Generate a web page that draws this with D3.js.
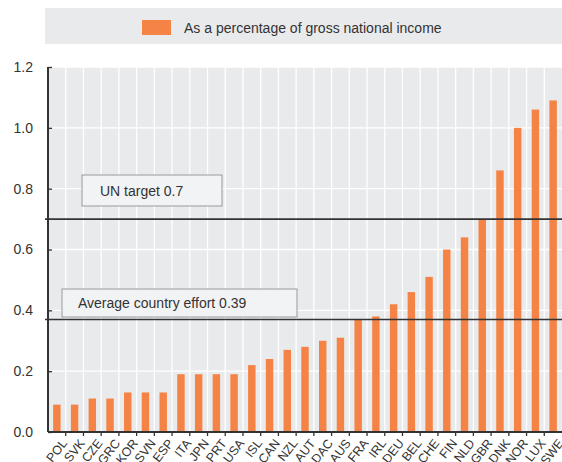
<!DOCTYPE html>
<html>
<head>
<meta charset="utf-8">
<script src="https://cdn.jsdelivr.net/npm/d3@7"></script>
<style>
  body { margin: 0; background: #fff; }
  text { font-family: "Liberation Sans", Arial, sans-serif; fill: #333; }
</style>
</head>
<body>
<svg id="chart" width="562" height="462"></svg>
<script>
var countries = ["POL","SVK","CZE","GRC","KOR","SVN","ESP","ITA","JPN","PRT","USA","ISL","CAN","NZL","AUT","DAC","AUS","FRA","IRL","DEU","BEL","CHE","FIN","NLD","GBR","DNK","NOR","LUX","SWE"];
var gniShare = [0.09,0.09,0.11,0.11,0.13,0.13,0.13,0.19,0.19,0.19,0.19,0.22,0.24,0.27,0.28,0.30,0.31,0.37,0.38,0.42,0.46,0.51,0.60,0.64,0.70,0.86,1.00,1.06,1.09];
var yTicks = [0, 0.2, 0.4, 0.6, 0.8, 1.0, 1.2];
var refLines = [
  { value: 0.7, label: "UN target 0.7" },
  { value: 0.37, label: "Average country effort 0.39" }
];
var legendLabel = "As a percentage of gross national income";

var svg = d3.select("#chart");
var plotL = 48, plotR = 562, plotT = 67, plotB = 432;

var x = d3.scaleBand().domain(countries).range([plotL, plotR]).paddingInner(0.58).paddingOuter(0.29);
var y = d3.scaleLinear().domain([0, 1.2]).range([plotB, plotT]);

// background
svg.append("rect").attr("x", plotL).attr("y", plotT).attr("width", plotR - plotL).attr("height", plotB - plotT)
  .attr("fill", "#e9eaec");

// legend
svg.append("rect").attr("x", 45).attr("y", 8).attr("width", 517).attr("height", 36).attr("fill", "#e9eaec");
svg.append("rect").attr("x", 142).attr("y", 20).attr("width", 29).attr("height", 15).attr("fill", "#f58345");
svg.append("text").attr("x", 184).attr("y", 33).attr("font-size", 14).text(legendLabel);

// grid
var step = x.step();
var bounds = d3.range(1, countries.length).map(function(i) { return plotL + i * step; });
svg.selectAll(".vgrid").data(bounds).enter().append("line")
  .attr("x1", function(d) { return d; }).attr("x2", function(d) { return d; })
  .attr("y1", plotT).attr("y2", plotB)
  .attr("stroke", "#fff").attr("stroke-width", 1.3);
svg.selectAll(".hgrid").data(yTicks.slice(1)).enter().append("line")
  .attr("x1", plotL).attr("x2", plotR)
  .attr("y1", function(d) { return y(d); }).attr("y2", function(d) { return y(d); })
  .attr("stroke", "#fff").attr("stroke-width", 1.3);

// bars
svg.selectAll(".bar").data(gniShare).enter().append("rect")
  .attr("x", function(d, i) { return x(countries[i]); })
  .attr("y", function(d) { return y(d); })
  .attr("width", x.bandwidth())
  .attr("height", function(d) { return plotB - y(d); })
  .attr("fill", "#f58345");

// y axis
var yAxis = svg.append("g").attr("transform", "translate(" + plotL + ",0)")
  .call(d3.axisRight(y).tickValues(yTicks).tickFormat(d3.format(".1f")).tickSize(4));
yAxis.select(".domain").remove();
yAxis.selectAll(".tick line").attr("stroke", "#333").attr("stroke-width", 1.3);
yAxis.selectAll(".tick text").attr("x", -15).attr("text-anchor", "end").attr("font-size", 14)
  .attr("font-family", "Liberation Sans, Arial, sans-serif").attr("fill", "#333");
svg.append("line").attr("x1", plotL).attr("x2", plotL).attr("y1", plotT).attr("y2", plotB)
  .attr("stroke", "#333").attr("stroke-width", 2);

// x axis
svg.selectAll(".xtick").data(bounds).enter().append("line")
  .attr("x1", function(d) { return d; }).attr("x2", function(d) { return d; })
  .attr("y1", plotB).attr("y2", plotB + 4)
  .attr("stroke", "#333").attr("stroke-width", 1.3);
svg.append("line").attr("x1", plotL).attr("x2", plotR).attr("y1", plotB).attr("y2", plotB)
  .attr("stroke", "#333").attr("stroke-width", 2.2);
svg.selectAll(".xlab").data(countries).enter().append("text")
  .attr("transform", function(d) {
    return "translate(" + (x(d) + x.bandwidth() / 2 + 4) + "," + (plotB + 6) + ") rotate(-52)";
  })
  .attr("text-anchor", "end").attr("dy", "0.7em").attr("font-size", 12.5).text(function(d) { return d; });

// reference lines and labels
var boxes = [
  { x: 82, y: 175, w: 140, h: 31, tx: 100 },
  { x: 62, y: 289, w: 235, h: 28, tx: 78 }
];
refLines.forEach(function(r, i) {
  svg.append("line").attr("x1", 45).attr("x2", plotR).attr("y1", y(r.value)).attr("y2", y(r.value))
    .attr("stroke", "#333").attr("stroke-width", 1.6);
  var b = boxes[i];
  svg.append("rect").attr("x", b.x).attr("y", b.y).attr("width", b.w).attr("height", b.h)
    .attr("fill", "#f2f3f4").attr("stroke", "#999").attr("stroke-width", 1);
  svg.append("text").attr("x", b.tx).attr("y", b.y + b.h / 2 + 5).attr("font-size", 14).text(r.label);
});
</script>
</body>
</html>
